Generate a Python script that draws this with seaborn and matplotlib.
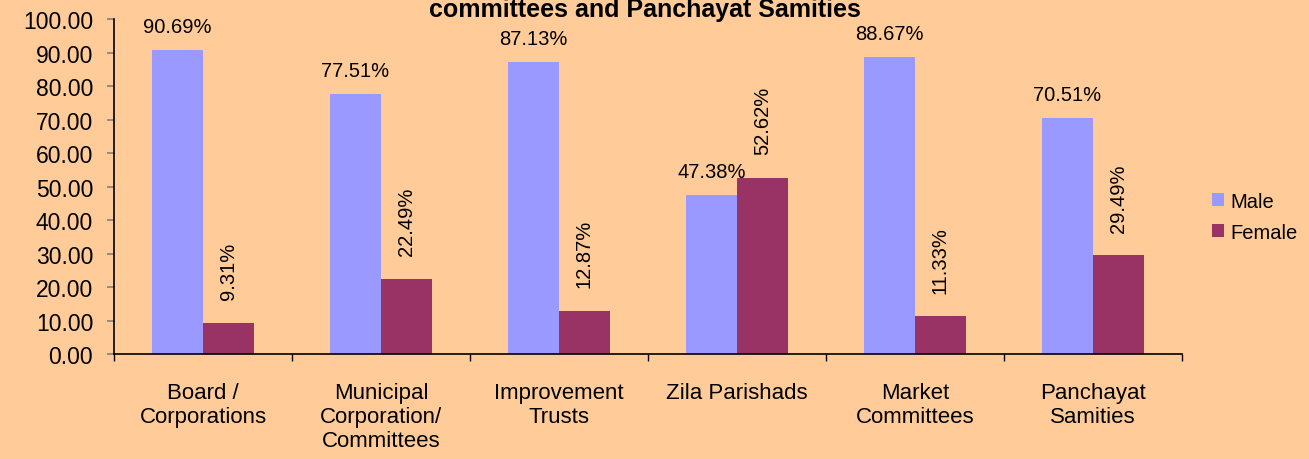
import matplotlib
matplotlib.use("Agg")
import matplotlib.pyplot as plt
import seaborn as sns
import pandas as pd
import numpy as np

categories = ["Board /\nCorporations", "Municipal\nCorporation/\nCommittees",
              "Improvement\nTrusts", "Zila Parishads", "Market\nCommittees",
              "Panchayat\nSamities"]
male = [90.69, 77.51, 87.13, 47.38, 88.67, 70.51]
female = [9.31, 22.49, 12.87, 52.62, 11.33, 29.49]
yticks = [0, 10, 20, 30, 40, 50, 60, 70, 80, 90, 100]

bg = "#FFCC99"
colors = {"Male": "#9999FF", "Female": "#993366"}

df = pd.DataFrame({
    "category": categories * 2,
    "sex": ["Male"] * len(male) + ["Female"] * len(female),
    "value": male + female,
})

sns.set_style("white", {"text.color": "black", "xtick.color": "black",
                        "ytick.color": "black", "axes.labelcolor": "black"})
plt.rcParams["font.family"] = ["Liberation Sans", "DejaVu Sans"]

fig = plt.figure(figsize=(13.09, 4.6), dpi=100, facecolor=bg)
ax = fig.add_axes([0.0871, 0.228, 0.8157, 0.7285])
ax.set_facecolor(bg)

sns.barplot(data=df, x="category", y="value", hue="sex", palette=colors,
            width=0.573, saturation=1, linewidth=0, ax=ax, legend=True)

# data labels: male flat above the bar, female rotated
for i, (cont, vals) in enumerate(zip(ax.containers, [male, female])):
    for bar, v in zip(cont, vals):
        x = bar.get_x() + bar.get_width() / 2
        if i == 0:
            ax.annotate(f"{v:.2f}%", (x, v), xytext=(0, 17), textcoords="offset points",
                        ha="center", va="center", fontsize=14.5)
        else:
            ax.annotate(f"{v:.2f}%", (x, v), xytext=(0, 17), textcoords="offset points",
                        ha="center", va="bottom", rotation=90, fontsize=14.5)

ax.set_ylim(0, 100)
ax.set_xlim(-0.5, len(categories) - 0.5)
ax.set_yticks(yticks)
ax.set_yticklabels([f"{t:.2f}" for t in yticks], fontsize=16.5)
ax.tick_params(axis="y", length=5, color="#808080", width=1.2, pad=10, direction="out", left=True)
ax.tick_params(axis="x", which="major", length=0, pad=20, labelsize=16)
for lbl in ax.get_xticklabels():
    lbl.set_linespacing(1.2)
ax.set_xticks(np.arange(-0.5, len(categories)), minor=True)
ax.tick_params(axis="x", which="minor", length=5, width=1, color="black", direction="out", bottom=True)
ax.set_xlabel("")
ax.set_ylabel("")

for s in ["top", "right"]:
    ax.spines[s].set_visible(False)
for s in ["left", "bottom"]:
    ax.spines[s].set_color("black")
    ax.spines[s].set_linewidth(1.2)

handles, labels = ax.get_legend_handles_labels()
ax.get_legend().remove()
fig.legend(handles, labels, loc="center left", bbox_to_anchor=(0.912, 0.527),
           frameon=False, fontsize=14.5, handlelength=0.6, handleheight=0.6,
           handletextpad=0.3, labelspacing=0.6)

fig.text(0.493, 0.963, "committees and Panchayat Samities", ha="center", va="baseline",
         fontsize=18, fontweight="bold")

fig.savefig("out.png", dpi=100, facecolor=bg)
